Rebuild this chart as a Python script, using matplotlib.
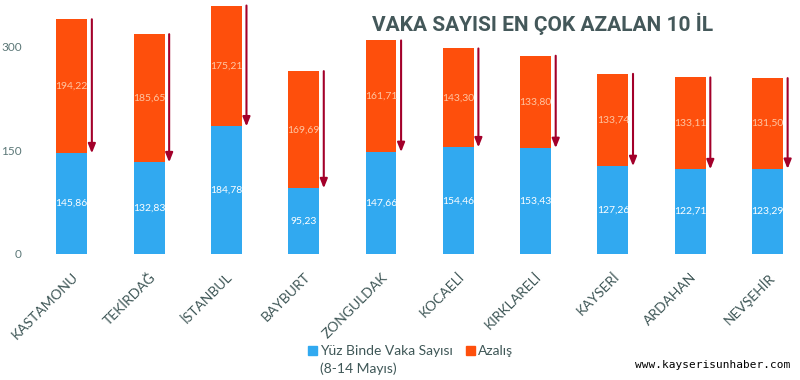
import matplotlib
matplotlib.use("Agg")
import matplotlib.pyplot as plt
from matplotlib.patches import Rectangle

categories = ["KASTAMONU", "TEKİRDAĞ", "İSTANBUL", "BAYBURT", "ZONGULDAK",
              "KOCAELİ", "KIRKLARELİ", "KAYSERİ", "ARDAHAN", "NEVŞEHİR"]
vaka = [145.86, 132.83, 184.78, 95.23, 147.66, 154.46, 153.43, 127.26, 122.71, 123.29]
azalis = [194.22, 185.65, 175.21, 169.69, 161.71, 143.30, 133.80, 133.74, 133.11, 131.50]
yticks = [0, 150, 300]
title = "VAKA SAYISI EN ÇOK AZALAN 10 İL"
legend_labels = ["Yüz Binde Vaka Sayısı", "(8-14 Mayıs)", "Azalış"]

BLUE = "#31a9f0"
ORANGE = "#fe4f0c"
ARROW = "#a3002a"
TXT = "#3f5757"

plt.rcParams['font.family'] = ['Lato', 'DejaVu Sans']
fig = plt.figure(figsize=(8, 3.8), dpi=100)
ax = fig.add_axes([30/800, (380-254)/380, 770/800, 254/380])

x = list(range(len(categories)))
w = 0.4
b1 = ax.bar(x, vaka, width=w, color=BLUE)
b2 = ax.bar(x, azalis, width=w, bottom=vaka, color=ORANGE)

for i in x:
    ax.text(i, vaka[i] / 2, f"{vaka[i]:.2f}".replace(".", ","), ha="center", va="center",
            color="white", fontsize=7.5)
    ax.text(i, vaka[i] + azalis[i] / 2, f"{azalis[i]:.2f}".replace(".", ","), ha="center",
            va="center", color="#ffc6a3", fontsize=7.5)
    top = vaka[i] + azalis[i]
    ax.annotate("", xy=(i + w / 2 + 0.06, vaka[i]), xytext=(i + w / 2 + 0.06, top),
                arrowprops=dict(arrowstyle="-|>,head_width=0.22,head_length=0.55",
                                color=ARROW, lw=1.5, shrinkA=0, shrinkB=0))

ax.set_xlim(-0.54, 9.42)
ax.set_ylim(0, 368)
ax.set_yticks(yticks)
ax.set_yticklabels([str(v) for v in yticks], color="#5c7878", fontsize=8.5)
ax.set_xticks(x)
ax.set_xticklabels(categories, rotation=45, ha="right", rotation_mode="anchor",
                   color=TXT, fontsize=10)
ax.tick_params(axis="both", length=0)
ax.tick_params(axis="x", pad=12)
ax.tick_params(axis="y", pad=6)
for s in ax.spines.values():
    s.set_visible(False)

fig.text(372/800, 1 - 24/380, title, ha="left", va="center", fontsize=15,
         fontweight="bold", color="#44585a", family="Roboto")

# legend
fig.patches.append(Rectangle((308/800, 1 - 355/380), 9/800, 9/380, color=BLUE,
                             transform=fig.transFigure, figure=fig))
fig.text(320/800, 1 - 351/380, legend_labels[0], ha="left", va="center",
         fontsize=10, color=TXT)
fig.text(320/800, 1 - 369/380, legend_labels[1], ha="left", va="center",
         fontsize=10, color=TXT)
fig.patches.append(Rectangle((466/800, 1 - 355/380), 9/800, 9/380, color=ORANGE,
                             transform=fig.transFigure, figure=fig))
fig.text(478/800, 1 - 351/380, legend_labels[2], ha="left", va="center",
         fontsize=10, color=TXT)

fig.text(790/800, 1 - 365/380, "www.kayserisunhaber.com", ha="right", va="center",
         fontsize=8, family="DejaVu Sans Mono", color="black")

fig.savefig("out.png", dpi=100)
